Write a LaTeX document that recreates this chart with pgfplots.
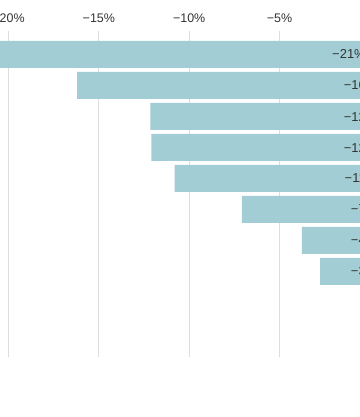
\documentclass[border=0pt]{standalone}
\usepackage{pgfplots}
\pgfplotsset{compat=1.18}
\usepackage{fontspec}
\setmainfont{Liberation Sans}
\definecolor{barc}{HTML}{A3CDD4}
\definecolor{gridc}{HTML}{DDDDDD}
\definecolor{tickc}{HTML}{333333}
\definecolor{labc}{HTML}{333333}
\begin{document}
\begin{tikzpicture}
\path[use as bounding box] (0bp,0bp) rectangle (360bp,417bp);
\clip (0bp,0bp) rectangle (360bp,417bp);
\begin{axis}[
  at={(0bp,60bp)}, anchor=south west,
  scale only axis, width=360bp, height=326bp,
  xmin=-20.47, xmax=-0.548,
  ymin=-1.758, ymax=8.758,
  axis line style={draw=none},
  ytick=\empty,
  xtick={-20,-15,-10,-5},
  xticklabels={−20\%,−15\%,−10\%,−5\%},
  xticklabel pos=upper,
  xmajorgrids, grid style={gridc, line width=1bp},
  major tick length=0pt,
  xticklabel style={anchor=base, yshift=8bp, font=\fontsize{12.5}{14}\selectfont, text=tickc},
  clip=false,
]
\addplot[xbar, bar width=27bp, bar shift=0pt, draw=none, fill=barc]
  coordinates {(-21.0,8) (-16.2,7) (-12.15,6) (-12.1,5) (-10.8,4) (-7.08,3) (-3.76,2) (-2.76,1)};
\addplot[draw=none, mark=none, nodes near coords, point meta=explicit symbolic,
  nodes near coords style={anchor=east, inner sep=0pt, font=\fontsize{13}{15}\selectfont, text=labc}]
  coordinates {(-0.22,8)[−21\%] (-0.22,7)[−16] (-0.22,6)[−12] (-0.22,5)[−12] (-0.22,4)[−11] (-0.22,3)[−7] (-0.22,2)[−4] (-0.22,1)[−3]};
\end{axis}
\end{tikzpicture}
\end{document}
